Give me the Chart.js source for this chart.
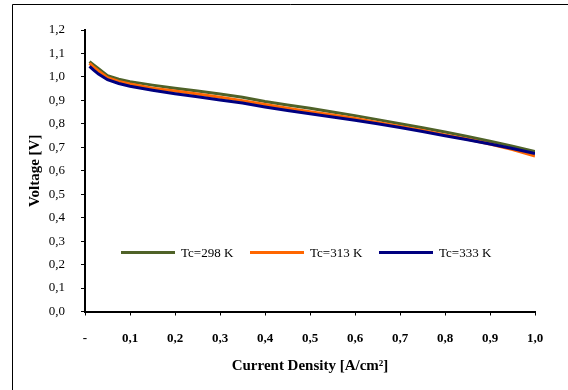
<!DOCTYPE html>
<html>
<head>
<meta charset="utf-8">
<style>
html,body{margin:0;padding:0;background:#fff;}
#wrap{position:relative;width:568px;height:390px;}
</style>
<script src="https://cdn.jsdelivr.net/npm/chart.js@4/dist/chart.umd.min.js"></script>
</head>
<body>
<div id="wrap"><canvas id="c" width="568" height="390"></canvas></div>
<script>
const currentDensity = [0.01,0.02,0.03,0.05,0.075,0.1,0.15,0.2,0.25,0.3,0.35,0.4,0.45,0.5,0.55,0.6,0.65,0.7,0.75,0.8,0.85,0.9,0.95,1.0];
const v298 = [1.065,1.050,1.035,1.005,0.990,0.980,0.965,0.952,0.940,0.927,0.913,0.895,0.880,0.866,0.850,0.835,0.818,0.800,0.783,0.765,0.746,0.726,0.705,0.682];
const v313 = [1.058,1.040,1.025,0.997,0.981,0.970,0.952,0.940,0.927,0.913,0.899,0.882,0.866,0.852,0.838,0.823,0.806,0.789,0.772,0.753,0.734,0.714,0.690,0.663];
const v333 = [1.045,1.028,1.012,0.988,0.972,0.960,0.943,0.928,0.915,0.902,0.889,0.872,0.857,0.843,0.829,0.815,0.800,0.784,0.767,0.749,0.732,0.714,0.695,0.673];
const seriesNames = ['Tc=298 K','Tc=313 K','Tc=333 K'];
const seriesColors = ['#4F6228','#FF6600','#000080'];
const xTickLabels = ['-','0,1','0,2','0,3','0,4','0,5','0,6','0,7','0,8','0,9','1,0'];
const yTickLabels = ['0,0','0,1','0,2','0,3','0,4','0,5','0,6','0,7','0,8','0,9','1,0','1,1','1,2'];
const xTitle = 'Current Density [A/cm\u00B2]';
const yTitle = 'Voltage [V]';

const seriesValues = [v298, v313, v333];
const datasets = seriesValues.map((vals, i) => ({
  label: seriesNames[i],
  data: currentDensity.map((x, j) => ({x: x, y: vals[j]})),
  borderColor: seriesColors[i],
  backgroundColor: seriesColors[i],
  borderWidth: 3,
  pointRadius: 0,
  tension: 0,
  order: 2 - i
}));

const FONT = '"Liberation Serif", "DejaVu Serif", serif';

const frame = {
  id: 'frame',
  beforeDraw(chart) {
    const ctx = chart.ctx;
    ctx.save();
    ctx.fillStyle = '#fff';
    ctx.fillRect(0, 0, chart.width, chart.height);
    ctx.strokeStyle = '#000';
    ctx.lineWidth = 1;
    ctx.beginPath();
    ctx.moveTo(12.5, chart.height);
    ctx.lineTo(12.5, 4.5);
    ctx.lineTo(chart.width, 4.5);
    ctx.stroke();
    ctx.restore();
  }
};

const legendPlugin = {
  id: 'inlegend',
  afterDatasetsDraw(chart) {
    const ctx = chart.ctx;
    const a = chart.chartArea;
    const y = Math.round(a.top + (a.bottom - a.top) * 0.79) + 0.5;
    const starts = [121, 250, 379];
    ctx.save();
    ctx.font = '13px ' + FONT;
    ctx.textBaseline = 'middle';
    chart.data.datasets.forEach((ds, i) => {
      const x0 = starts[i];
      ctx.strokeStyle = ds.borderColor;
      ctx.lineWidth = 3;
      ctx.beginPath();
      ctx.moveTo(x0, y);
      ctx.lineTo(x0 + 54, y);
      ctx.stroke();
      ctx.fillStyle = '#000';
      ctx.fillText(ds.label, x0 + 60, y + 1);
    });
    ctx.restore();
  }
};

new Chart(document.getElementById('c'), {
  type: 'line',
  data: { datasets: datasets },
  options: {
    responsive: false,
    animation: false,
    layout: { padding: { left: 0, right: 33, top: 30, bottom: 0 } },
    plugins: { legend: { display: false }, tooltip: { enabled: false } },
    scales: {
      x: {
        type: 'linear',
        min: 0, max: 1.0,
        afterFit(s) { s.height = 78.5; },
        ticks: {
          stepSize: 0.1,
          autoSkip: false,
          maxRotation: 0,
          padding: 15,
          color: '#000',
          font: { family: FONT, size: 13, weight: 'bold' },
          callback(v, idx) { return xTickLabels[idx]; }
        },
        grid: { drawOnChartArea: false, drawTicks: true, tickLength: 4, color: '#000', lineWidth: 1 },
        border: { color: '#000', width: 2 },
        title: {
          display: true,
          text: xTitle,
          color: '#000',
          font: { family: FONT, size: 15, weight: 'bold' },
          padding: { top: 0, bottom: 15 }
        }
      },
      y: {
        type: 'linear',
        min: 0, max: 1.2,
        afterFit(s) { s.width = 85; },
        ticks: {
          stepSize: 0.1,
          autoSkip: false,
          padding: 16,
          color: '#000',
          font: { family: FONT, size: 13 },
          callback(v, idx) { return yTickLabels[idx]; }
        },
        grid: { drawOnChartArea: false, drawTicks: true, tickLength: 4, color: '#000', lineWidth: 1 },
        border: { color: '#000', width: 2 },
        title: {
          display: true,
          text: yTitle,
          color: '#000',
          font: { family: FONT, size: 15, weight: 'bold' },
          padding: { top: 26, bottom: 0 }
        }
      }
    }
  },
  plugins: [frame, legendPlugin]
});
</script>
</body>
</html>
